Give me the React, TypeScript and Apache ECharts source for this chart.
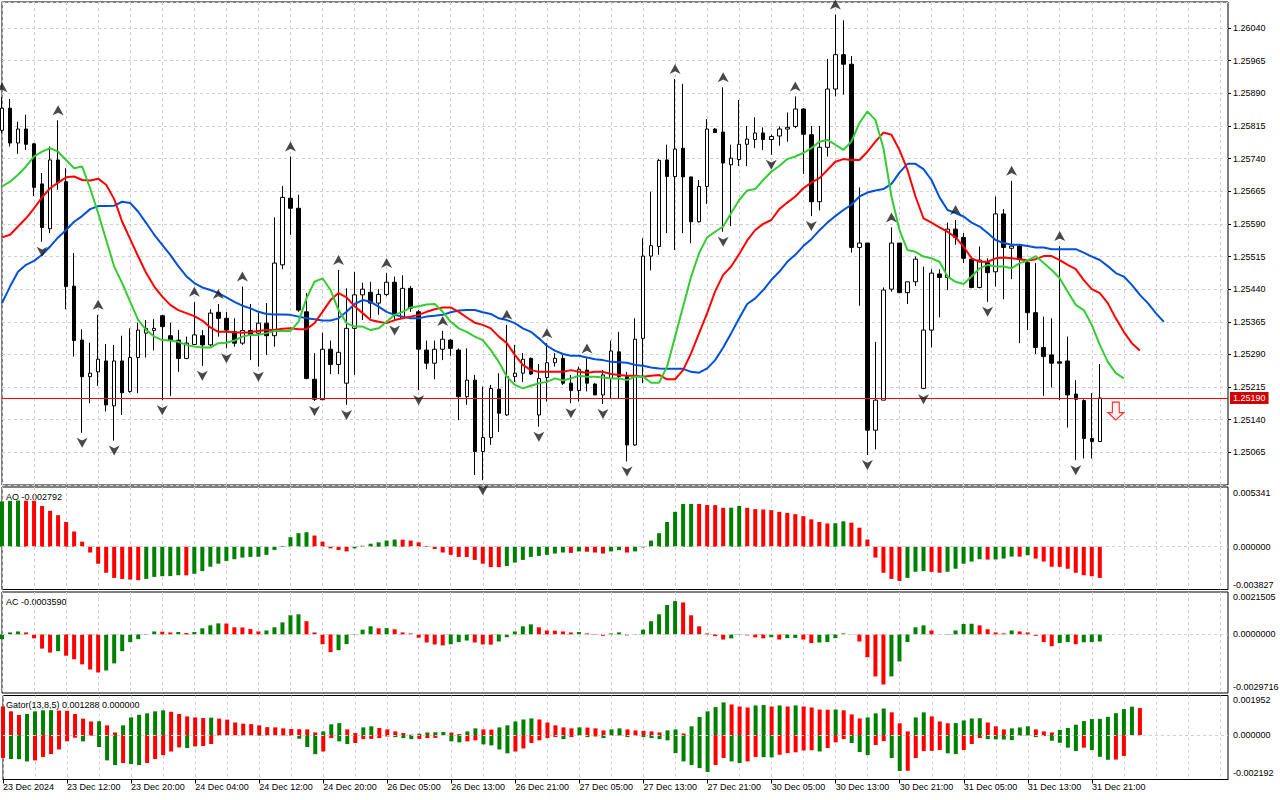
import React, { useEffect, useRef } from "react";
import * as echarts from "echarts";

// ---------- data ----------
const timeLabels = [
  "23 Dec 2024", "23 Dec 12:00", "23 Dec 20:00", "24 Dec 04:00", "24 Dec 12:00", "24 Dec 20:00",
  "26 Dec 05:00", "26 Dec 13:00", "26 Dec 21:00", "27 Dec 05:00", "27 Dec 13:00", "27 Dec 21:00",
  "30 Dec 05:00", "30 Dec 13:00", "30 Dec 21:00", "31 Dec 05:00", "31 Dec 13:00", "31 Dec 21:00",
];
const barsPerLabel = 8;
const categoryCount = 154;

const opens = [
  1.25805, 1.25856, 1.25776, 1.25808, 1.25774, 1.25682, 1.25579, 1.25737, 1.25687, 1.25447,
  1.25323, 1.25239, 1.25250, 1.25275, 1.25172, 1.25275, 1.25205, 1.25283, 1.25339, 1.25345,
  1.25379, 1.25333, 1.25323, 1.25281, 1.25313, 1.25333, 1.25312, 1.25387, 1.25373, 1.25342,
  1.25316, 1.25345, 1.25339, 1.25362, 1.25333, 1.25496, 1.25649, 1.25626, 1.25388, 1.25233,
  1.25186, 1.25302, 1.25267, 1.25224, 1.25350, 1.25427, 1.25433, 1.25408, 1.25428, 1.25456,
  1.25373, 1.25442, 1.25388, 1.25300, 1.25270, 1.25302, 1.25323, 1.25300, 1.25193, 1.25231,
  1.25067, 1.25099, 1.25210, 1.25151, 1.25239, 1.25247, 1.25281, 1.25151, 1.25237, 1.25271,
  1.25281, 1.25224, 1.25207, 1.25254, 1.25222, 1.25197, 1.25235, 1.25296, 1.25239, 1.25082,
  1.25327, 1.25516, 1.25538, 1.25737, 1.25699, 1.25764, 1.25698, 1.25595, 1.25676, 1.25808,
  1.25801, 1.25726, 1.25738, 1.25773, 1.25784, 1.25799, 1.25784, 1.25792, 1.25808, 1.25814,
  1.25854, 1.25795, 1.25641, 1.25766, 1.25900, 1.25979, 1.25957, 1.25536, 1.25546, 1.25116,
  1.25185, 1.25440, 1.25546, 1.25432, 1.25457, 1.25212, 1.25346, 1.25475, 1.25467, 1.25578,
  1.25559, 1.25509, 1.25444, 1.25501, 1.25480, 1.25613, 1.25534, 1.25539, 1.25501, 1.25386,
  1.25306, 1.25289, 1.25273, 1.25275, 1.25199, 1.25184, 1.25097, 1.25090,
];
const highs = [
  1.25881, 1.25877, 1.25825, 1.25841, 1.25776, 1.25707, 1.25768, 1.25828, 1.25718, 1.25523,
  1.25348, 1.25317, 1.25381, 1.25314, 1.25312, 1.25333, 1.25350, 1.25363, 1.25369, 1.25371,
  1.25381, 1.25363, 1.25346, 1.25331, 1.25411, 1.25346, 1.25394, 1.25406, 1.25388, 1.25373,
  1.25446, 1.25406, 1.25386, 1.25408, 1.25605, 1.25677, 1.25745, 1.25657, 1.25431, 1.25293,
  1.25340, 1.25322, 1.25484, 1.25442, 1.25480, 1.25455, 1.25457, 1.25440, 1.25477, 1.25469,
  1.25472, 1.25447, 1.25392, 1.25322, 1.25322, 1.25344, 1.25325, 1.25304, 1.25304, 1.25243,
  1.25216, 1.25220, 1.25247, 1.25358, 1.25312, 1.25293, 1.25283, 1.25268, 1.25316, 1.25293,
  1.25293, 1.25243, 1.25262, 1.25281, 1.25224, 1.25254, 1.25322, 1.25342, 1.25250, 1.25373,
  1.25557, 1.25664, 1.25739, 1.25772, 1.25923, 1.25912, 1.25698, 1.25691, 1.25831, 1.25810,
  1.25904, 1.25772, 1.25875, 1.25815, 1.25835, 1.25812, 1.25795, 1.25814, 1.25846, 1.25883,
  1.25856, 1.25815, 1.25815, 1.25969, 1.26071, 1.26058, 1.25976, 1.25674, 1.25546, 1.25319,
  1.25444, 1.25582, 1.25546, 1.25457, 1.25515, 1.25492, 1.25486, 1.25486, 1.25593, 1.25599,
  1.25569, 1.25515, 1.25538, 1.25511, 1.25653, 1.25624, 1.25689, 1.25542, 1.25507, 1.25500,
  1.25377, 1.25373, 1.25539, 1.25331, 1.25231, 1.25187, 1.25201, 1.25268,
];
const lows = [
  1.25799, 1.25768, 1.25751, 1.25760, 1.25654, 1.25549, 1.25569, 1.25668, 1.25394, 1.25285,
  1.25110, 1.25178, 1.25218, 1.25159, 1.25092, 1.25151, 1.25202, 1.25201, 1.25283, 1.25299,
  1.25185, 1.25195, 1.25250, 1.25279, 1.25312, 1.25264, 1.25308, 1.25331, 1.25304, 1.25308,
  1.25312, 1.25277, 1.25262, 1.25289, 1.25308, 1.25486, 1.25565, 1.25388, 1.25233, 1.25183,
  1.25186, 1.25245, 1.25245, 1.25174, 1.25243, 1.25369, 1.25373, 1.25381, 1.25424, 1.25368,
  1.25373, 1.25388, 1.25208, 1.25256, 1.25233, 1.25277, 1.25287, 1.25139, 1.25174, 1.25013,
  1.25001, 1.25082, 1.25112, 1.25149, 1.25227, 1.25227, 1.25243, 1.25124, 1.25182, 1.25262,
  1.25220, 1.25178, 1.25182, 1.25205, 1.25197, 1.25176, 1.25189, 1.25189, 1.25044, 1.25080,
  1.25224, 1.25483, 1.25519, 1.25569, 1.25530, 1.25569, 1.25546, 1.25593, 1.25636, 1.25799,
  1.25572, 1.25585, 1.25723, 1.25723, 1.25764, 1.25760, 1.25749, 1.25770, 1.25779, 1.25810,
  1.25705, 1.25608, 1.25621, 1.25745, 1.25883, 1.25887, 1.25524, 1.25402, 1.25059, 1.25072,
  1.25185, 1.25434, 1.25431, 1.25406, 1.25447, 1.25210, 1.25306, 1.25375, 1.25438, 1.25542,
  1.25500, 1.25442, 1.25442, 1.25411, 1.25446, 1.25417, 1.25463, 1.25316, 1.25346, 1.25291,
  1.25195, 1.25214, 1.25185, 1.25122, 1.25047, 1.25051, 1.25051, 1.25090,
];
const closes = [
  1.25856, 1.25776, 1.25808, 1.25773, 1.25674, 1.25582, 1.25737, 1.25685, 1.25446, 1.25322,
  1.25239, 1.25247, 1.25279, 1.25174, 1.25275, 1.25202, 1.25283, 1.25346, 1.25350, 1.25350,
  1.25354, 1.25322, 1.25281, 1.25316, 1.25335, 1.25312, 1.25385, 1.25373, 1.25346, 1.25316,
  1.25345, 1.25336, 1.25362, 1.25333, 1.25500, 1.25651, 1.25626, 1.25392, 1.25235, 1.25187,
  1.25302, 1.25267, 1.25295, 1.25350, 1.25427, 1.25440, 1.25408, 1.25428, 1.25456, 1.25381,
  1.25442, 1.25396, 1.25302, 1.25270, 1.25302, 1.25325, 1.25304, 1.25193, 1.25231, 1.25067,
  1.25099, 1.25212, 1.25155, 1.25239, 1.25247, 1.25279, 1.25245, 1.25235, 1.25271, 1.25281,
  1.25224, 1.25207, 1.25256, 1.25224, 1.25197, 1.25243, 1.25298, 1.25239, 1.25082, 1.25325,
  1.25516, 1.25540, 1.25736, 1.25699, 1.25762, 1.25698, 1.25595, 1.25676, 1.25808, 1.25800,
  1.25730, 1.25741, 1.25773, 1.25785, 1.25799, 1.25784, 1.25791, 1.25808, 1.25812, 1.25854,
  1.25796, 1.25641, 1.25766, 1.25900, 1.25979, 1.25957, 1.25536, 1.25546, 1.25116, 1.25185,
  1.25438, 1.25546, 1.25432, 1.25457, 1.25509, 1.25346, 1.25477, 1.25467, 1.25578, 1.25559,
  1.25511, 1.25444, 1.25507, 1.25478, 1.25613, 1.25536, 1.25539, 1.25509, 1.25386, 1.25306,
  1.25285, 1.25270, 1.25270, 1.25197, 1.25187, 1.25097, 1.25090, 1.25190,
];

// Alligator (already shifted: jaw +8, teeth +5, lips +3 bars)
const jaw = [
  1.25408, 1.25446, 1.25480, 1.25496, 1.25505, 1.25519, 1.25538, 1.25559, 1.25576, 1.25595,
  1.25608, 1.25624, 1.25631, 1.25631, 1.25632, 1.25641, 1.25638, 1.25618, 1.25592, 1.25565,
  1.25542, 1.25519, 1.25493, 1.25470, 1.25454, 1.25444, 1.25438, 1.25431, 1.25421, 1.25411,
  1.25402, 1.25396, 1.25388, 1.25383, 1.25382, 1.25382, 1.25381, 1.25377, 1.25373, 1.25371,
  1.25368, 1.25368, 1.25373, 1.25388, 1.25406, 1.25415, 1.25411, 1.25400, 1.25388, 1.25381,
  1.25377, 1.25373, 1.25373, 1.25377, 1.25379, 1.25381, 1.25387, 1.25391, 1.25392, 1.25392,
  1.25387, 1.25383, 1.25373, 1.25369, 1.25362, 1.25350, 1.25342, 1.25327, 1.25310, 1.25299,
  1.25291, 1.25287, 1.25287, 1.25283, 1.25279, 1.25277, 1.25273, 1.25272, 1.25271, 1.25266,
  1.25264, 1.25260, 1.25258, 1.25257, 1.25257, 1.25257, 1.25250, 1.25248, 1.25258, 1.25277,
  1.25306, 1.25339, 1.25373, 1.25406, 1.25419, 1.25438, 1.25461, 1.25480, 1.25503, 1.25519,
  1.25539, 1.25555, 1.25575, 1.25593, 1.25608, 1.25622, 1.25634, 1.25653, 1.25662, 1.25667,
  1.25670, 1.25682, 1.25708, 1.25728, 1.25728, 1.25716, 1.25691, 1.25651, 1.25622, 1.25615,
  1.25607, 1.25593, 1.25584, 1.25569, 1.25553, 1.25546, 1.25542, 1.25542, 1.25539, 1.25536,
  1.25536, 1.25532, 1.25532, 1.25532, 1.25532, 1.25524, 1.25515, 1.25507, 1.25493, 1.25477,
  1.25469, 1.25450, 1.25427, 1.25408, 1.25385, 1.25365,
];
const teeth = [
  1.25559, 1.25565, 1.25584, 1.25603, 1.25626, 1.25651, 1.25672, 1.25685, 1.25697, 1.25699,
  1.25691, 1.25690, 1.25694, 1.25680, 1.25647, 1.25595, 1.25555, 1.25515, 1.25477, 1.25446,
  1.25423, 1.25404, 1.25392, 1.25385, 1.25378, 1.25368, 1.25352, 1.25342, 1.25342, 1.25341,
  1.25340, 1.25341, 1.25344, 1.25346, 1.25346, 1.25349, 1.25350, 1.25348, 1.25348, 1.25362,
  1.25388, 1.25415, 1.25431, 1.25421, 1.25401, 1.25385, 1.25369, 1.25365, 1.25362, 1.25369,
  1.25373, 1.25377, 1.25381, 1.25388, 1.25394, 1.25398, 1.25398, 1.25388, 1.25375, 1.25363,
  1.25358, 1.25350, 1.25331, 1.25316, 1.25289, 1.25266, 1.25254, 1.25250, 1.25250, 1.25250,
  1.25250, 1.25254, 1.25250, 1.25248, 1.25250, 1.25250, 1.25245, 1.25243, 1.25241, 1.25241,
  1.25239, 1.25241, 1.25243, 1.25233, 1.25233, 1.25254, 1.25293, 1.25339, 1.25385, 1.25435,
  1.25473, 1.25492, 1.25521, 1.25552, 1.25576, 1.25590, 1.25599, 1.25624, 1.25639, 1.25653,
  1.25672, 1.25685, 1.25695, 1.25714, 1.25733, 1.25739, 1.25737, 1.25737, 1.25756, 1.25779,
  1.25800, 1.25795, 1.25760, 1.25714, 1.25653, 1.25603, 1.25593, 1.25582, 1.25572, 1.25559,
  1.25538, 1.25511, 1.25503, 1.25503, 1.25511, 1.25513, 1.25511, 1.25509, 1.25506, 1.25509,
  1.25516, 1.25516, 1.25507, 1.25496, 1.25486, 1.25461, 1.25440, 1.25431, 1.25408, 1.25373,
  1.25342, 1.25316, 1.25299,
];
const lips = [
  1.25676, 1.25687, 1.25703, 1.25722, 1.25745, 1.25756, 1.25764, 1.25756, 1.25737, 1.25718,
  1.25722, 1.25672, 1.25615, 1.25553, 1.25492, 1.25454, 1.25411, 1.25369, 1.25346, 1.25331,
  1.25323, 1.25322, 1.25319, 1.25312, 1.25308, 1.25306, 1.25306, 1.25316, 1.25317, 1.25322,
  1.25331, 1.25335, 1.25335, 1.25339, 1.25344, 1.25344, 1.25344, 1.25365, 1.25419, 1.25457,
  1.25465, 1.25438, 1.25392, 1.25362, 1.25354, 1.25354, 1.25346, 1.25350, 1.25365, 1.25381,
  1.25388, 1.25398, 1.25401, 1.25405, 1.25406, 1.25388, 1.25365, 1.25350, 1.25342, 1.25331,
  1.25323, 1.25300, 1.25273, 1.25239, 1.25220, 1.25212, 1.25218, 1.25224, 1.25227, 1.25235,
  1.25230, 1.25235, 1.25241, 1.25239, 1.25239, 1.25237, 1.25235, 1.25235, 1.25231, 1.25239,
  1.25239, 1.25225, 1.25225, 1.25262, 1.25331, 1.25400, 1.25469, 1.25523, 1.25559, 1.25572,
  1.25584, 1.25615, 1.25645, 1.25667, 1.25670, 1.25691, 1.25710, 1.25723, 1.25739, 1.25745,
  1.25753, 1.25764, 1.25779, 1.25783, 1.25772, 1.25760, 1.25779, 1.25822, 1.25848, 1.25829,
  1.25764, 1.25653, 1.25576, 1.25530, 1.25526, 1.25515, 1.25511, 1.25503, 1.25469, 1.25457,
  1.25452, 1.25469, 1.25488, 1.25496, 1.25492, 1.25492, 1.25488, 1.25500, 1.25506, 1.25516,
  1.25500, 1.25484, 1.25465, 1.25434, 1.25404, 1.25392, 1.25358, 1.25312, 1.25273, 1.25247,
  1.25235,
];

const upFractalBars = [0, 7, 12, 24, 27, 30, 36, 42, 48, 55, 63, 68, 73, 84, 90, 99, 104, 111, 119, 126, 132];
const downFractalBars = [5, 10, 14, 20, 25, 28, 32, 39, 43, 49, 52, 60, 67, 71, 75, 78, 90, 96, 101, 108, 115, 123, 134];

const signalBar = 139;
const signalPrice = 1.2516;

const ao = [
  0.00405, 0.00410, 0.00413, 0.00412, 0.00411, 0.00364, 0.00321, 0.00282, 0.00221, 0.00136,
  0.00045, -0.00052, -0.00152, -0.00233, -0.00279, -0.00288, -0.00294, -0.00300, -0.00288, -0.00270,
  -0.00264, -0.00263, -0.00255, -0.00256, -0.00242, -0.00218, -0.00179, -0.00152, -0.00127, -0.00112,
  -0.00097, -0.00091, -0.00090, -0.00073, -0.00030, 0.00006, 0.00085, 0.00121, 0.00130, 0.00100,
  0.00045, -0.00015, -0.00030, -0.00042, -0.00015, 0.00009, 0.00027, 0.00039, 0.00055, 0.00064,
  0.00063, 0.00055, 0.00039, 0.00006, -0.00021, -0.00052, -0.00073, -0.00091, -0.00092, -0.00118,
  -0.00152, -0.00182, -0.00183, -0.00173, -0.00142, -0.00118, -0.00091, -0.00082, -0.00073, -0.00061,
  -0.00052, -0.00055, -0.00042, -0.00045, -0.00052, -0.00061, -0.00042, -0.00030, -0.00052, -0.00042,
  -0.00006, 0.00055, 0.00121, 0.00221, 0.00312, 0.00382, 0.00383, 0.00382, 0.00373, 0.00372,
  0.00348, 0.00349, 0.00364, 0.00348, 0.00336, 0.00333, 0.00327, 0.00312, 0.00303, 0.00291,
  0.00273, 0.00245, 0.00221, 0.00208, 0.00210, 0.00227, 0.00215, 0.00170, 0.00064, -0.00097,
  -0.00233, -0.00288, -0.00306, -0.00279, -0.00224, -0.00218, -0.00225, -0.00233, -0.00224, -0.00197,
  -0.00152, -0.00133, -0.00112, -0.00115, -0.00114, -0.00106, -0.00088, -0.00089, -0.00076, -0.00106,
  -0.00133, -0.00179, -0.00180, -0.00197, -0.00233, -0.00255, -0.00264, -0.00279,
];
const ac = [
  -0.00024, 0.00010, 0.00015, 0.00010, -0.00020, -0.00072, -0.00092, -0.00085, -0.00108, -0.00126,
  -0.00152, -0.00178, -0.00193, -0.00183, -0.00147, -0.00085, -0.00039, -0.00024, -0.00003, 0.00015,
  0.00014, 0.00010, 0.00012, 0.00007, 0.00012, 0.00031, 0.00046, 0.00056, 0.00055, 0.00036,
  0.00035, 0.00027, 0.00015, 0.00020, 0.00036, 0.00061, 0.00097, 0.00102, 0.00067, 0.00010,
  -0.00050, -0.00090, -0.00080, -0.00049, -0.00002, 0.00024, 0.00041, 0.00031, 0.00032, 0.00026,
  0.00010, 0.00005, -0.00017, -0.00041, -0.00051, -0.00056, -0.00050, -0.00039, -0.00031, -0.00041,
  -0.00051, -0.00052, -0.00036, -0.00014, 0.00015, 0.00041, 0.00051, 0.00036, 0.00020, 0.00019,
  0.00015, 0.00010, 0.00012, 0.00005, 0.00002, -0.00007, 0.00005, 0.00010, -0.00005, -0.00002,
  0.00024, 0.00067, 0.00102, 0.00149, 0.00169, 0.00162, 0.00097, 0.00041, 0.00005, -0.00009,
  -0.00026, -0.00020, 0.00002, -0.00005, -0.00015, -0.00020, -0.00014, -0.00026, -0.00019, -0.00018,
  -0.00026, -0.00044, -0.00041, -0.00039, -0.00019, 0.00005, 0.00001, -0.00036, -0.00116, -0.00213,
  -0.00254, -0.00213, -0.00137, -0.00039, 0.00036, 0.00046, 0.00020, 0.00001, 0.00002, 0.00020,
  0.00053, 0.00054, 0.00046, 0.00026, 0.00010, 0.00005, 0.00020, 0.00015, 0.00010, -0.00007,
  -0.00039, -0.00060, -0.00044, -0.00039, -0.00050, -0.00040, -0.00039, -0.00036,
];
const gatorUpper = [
  0.00141, 0.00117, 0.00099, 0.00104, 0.00117, 0.00122, 0.00123, 0.00121, 0.00120, 0.00104,
  0.00081, 0.00067, 0.00068, 0.00048, 0.00013, 0.00048, 0.00087, 0.00100, 0.00107, 0.00117,
  0.00122, 0.00115, 0.00104, 0.00092, 0.00087, 0.00084, 0.00086, 0.00081, 0.00076, 0.00062,
  0.00056, 0.00054, 0.00048, 0.00039, 0.00038, 0.00033, 0.00030, 0.00029, 0.00028, 0.00013,
  0.00018, 0.00053, 0.00059, 0.00028, 0.00010, 0.00038, 0.00043, 0.00035, 0.00028, 0.00018,
  0.00010, 0.00002, 0.00007, 0.00013, 0.00014, 0.00015, 0.00012, 0.00005, 0.00018, 0.00033,
  0.00028, 0.00027, 0.00038, 0.00048, 0.00067, 0.00077, 0.00082, 0.00077, 0.00062, 0.00048,
  0.00038, 0.00033, 0.00038, 0.00037, 0.00033, 0.00023, 0.00028, 0.00033, 0.00028, 0.00023,
  0.00021, 0.00018, 0.00013, 0.00023, 0.00028, 0.00008, 0.00043, 0.00089, 0.00117, 0.00138,
  0.00161, 0.00151, 0.00141, 0.00136, 0.00146, 0.00148, 0.00141, 0.00146, 0.00141, 0.00146,
  0.00141, 0.00136, 0.00126, 0.00125, 0.00126, 0.00122, 0.00102, 0.00082, 0.00087, 0.00107,
  0.00131, 0.00112, 0.00058, 0.00018, 0.00087, 0.00112, 0.00092, 0.00067, 0.00058, 0.00059,
  0.00072, 0.00082, 0.00083, 0.00062, 0.00043, 0.00028, 0.00033, 0.00038, 0.00043, 0.00028,
  0.00018, 0.00013, 0.00025, 0.00035, 0.00051, 0.00069, 0.00079, 0.00080, 0.00090, 0.00108,
  0.00128, 0.00140, 0.00133,
];
const gatorLower = [
  -0.00113, -0.00118, -0.00119, -0.00130, -0.00125, -0.00108, -0.00094, -0.00071, -0.00031, -0.00013,
  -0.00031, -0.00003, -0.00059, -0.00125, -0.00148, -0.00138, -0.00143, -0.00148, -0.00138, -0.00118,
  -0.00099, -0.00081, -0.00061, -0.00064, -0.00056, -0.00054, -0.00044, -0.00002, -0.00001, -0.00001,
  -0.00002, -0.00002, -0.00003, -0.00002, -0.00002, -0.00002, -0.00003, -0.00018, -0.00059, -0.00094,
  -0.00081, -0.00015, -0.00031, -0.00044, -0.00039, -0.00020, -0.00019, -0.00015, -0.00007, -0.00010,
  -0.00015, -0.00020, -0.00019, -0.00015, -0.00014, -0.00001, -0.00031, -0.00036, -0.00031, -0.00026,
  -0.00046, -0.00051, -0.00071, -0.00090, -0.00081, -0.00066, -0.00039, -0.00026, -0.00015, -0.00010,
  -0.00020, -0.00010, -0.00002, -0.00010, -0.00007, -0.00015, -0.00003, -0.00002, -0.00010, -0.00003,
  -0.00010, -0.00015, -0.00020, -0.00026, -0.00089, -0.00130, -0.00148, -0.00163, -0.00182, -0.00148,
  -0.00113, -0.00130, -0.00138, -0.00130, -0.00108, -0.00109, -0.00110, -0.00097, -0.00089, -0.00085,
  -0.00076, -0.00075, -0.00081, -0.00064, -0.00036, -0.00020, -0.00039, -0.00084, -0.00099, -0.00049,
  -0.00030, -0.00113, -0.00177, -0.00176, -0.00113, -0.00079, -0.00078, -0.00074, -0.00090, -0.00094,
  -0.00074, -0.00044, -0.00015, -0.00020, -0.00021, -0.00022, -0.00025, -0.00003, -0.00002, -0.00010,
  -0.00005, -0.00028, -0.00038, -0.00062, -0.00079, -0.00062, -0.00074, -0.00107, -0.00122, -0.00121,
  -0.00103,
];

// axis ranges / labels (as shown by the terminal)
const priceMin = 1.2499;
const priceMax = 1.261;
const priceStep = 0.00075;
const aoRange = [-0.003827, 0.005341];
const acRange = [-0.0029716, 0.0021505];
const gatorRange = [-0.002192, 0.001952];
const aoAxisLabels = ["0.005341", "0.000000", "-0.003827"];
const acAxisLabels = ["0.0021505", "0.0000000", "-0.0029716"];
const gatorAxisLabels = ["0.001952", "0.000000", "-0.002192"];
const aoTitle = "AO -0.002792";
const acTitle = "AC -0.0003590";
const gatorTitle = "Gator(13,8,5) 0.001288 0.000000";

// ---------- styling ----------
const FONT = '"Liberation Sans", Arial, sans-serif';
const GREEN = "#008000";
const RED = "#ff0000";
const GRID_COLOR = "#d0d0d0";

function colorBars(values: number[], firstColor: string, byAbs = false) {
  return values.map((v, i) => {
    let c = firstColor;
    if (i > 0) {
      const a = byAbs ? Math.abs(v) : v;
      const b = byAbs ? Math.abs(values[i - 1]) : values[i - 1];
      c = a > b ? GREEN : RED;
    }
    return { value: v, itemStyle: { color: c } };
  });
}

function zeroLine() {
  return {
    silent: true,
    precision: 8,
    symbol: ["none", "none"],
    label: { show: false },
    lineStyle: { color: GRID_COLOR, type: [3, 3], width: 1 },
    data: [{ yAxis: 0 }],
  };
}

export default function App() {
  const ref = useRef<HTMLDivElement>(null);

  useEffect(() => {
    if (!ref.current) return;
    const chart = echarts.init(ref.current, null, { renderer: "svg" });
    const categories = Array.from({ length: categoryCount }, (_, i) => String(i));
    const labelFor = (idx: number) =>
      idx % barsPerLabel === 0 && idx / barsPerLabel < timeLabels.length ? timeLabels[idx / barsPerLabel] : "";
    const hasLabel = (idx: number) => labelFor(idx) !== "";

    const gridDefs = [
      { left: 2, top: 2, width: 1226, height: 483 },
      { left: 2, top: 487, width: 1226, height: 102.5 },
      { left: 2, top: 592, width: 1226, height: 101 },
      { left: 2, top: 695.5, width: 1226, height: 84 },
    ];
    const grids = gridDefs.map((g) => ({ ...g, show: true, borderColor: "#000", borderWidth: 1, backgroundColor: "#fff" }));

    const xAxes = gridDefs.map((_, gi) => ({
      type: "category",
      gridIndex: gi,
      data: categories,
      boundaryGap: false,
      axisLine: { show: gi === 3, onZero: false, lineStyle: { color: "#000" } },
      axisTick: { show: gi === 3, interval: (idx: number) => hasLabel(idx), length: 4, lineStyle: { color: "#000" } },
      axisLabel: {
        show: gi === 3,
        interval: (idx: number) => hasLabel(idx),
        align: "left",
        margin: 3,
        color: "#000",
        fontSize: 9,
        fontFamily: FONT,
        formatter: (_v: string, idx: number) => labelFor(idx),
      },
      splitLine: { show: true, interval: 3, lineStyle: { color: GRID_COLOR, type: [3, 3], width: 1 } },
    }));

    const subY = (gi: number, range: number[]) => ({
      type: "value",
      gridIndex: gi,
      position: "right",
      min: range[0],
      max: range[1],
      axisLine: { show: false },
      axisTick: { show: false },
      axisLabel: { show: false },
      splitLine: { show: false },
    });

    const yAxes = [
      {
        type: "value",
        gridIndex: 0,
        position: "right",
        min: priceMin,
        max: priceMax,
        interval: priceStep,
        axisLine: { show: false },
        axisTick: { show: true, length: 3, lineStyle: { color: "#000" } },
        axisLabel: {
          color: "#000",
          fontSize: 9,
          fontFamily: FONT,
          margin: 5,
          showMinLabel: false,
          showMaxLabel: false,
          formatter: (v: number) => v.toFixed(5),
        },
        splitLine: { show: true, lineStyle: { color: GRID_COLOR, type: [3, 3], width: 1 } },
      },
      subY(1, aoRange),
      subY(2, acRange),
      subY(3, gatorRange),
    ];

    const lastClose = closes[closes.length - 1];

    const lineSeries = (name: string, data: number[], color: string, extra: any = {}) => ({
      name,
      type: "line",
      xAxisIndex: 0,
      yAxisIndex: 0,
      data,
      symbol: "none",
      showSymbol: false,
      z: 4,
      lineStyle: { color, width: 2 },
      ...extra,
    });

    const priceLine = {
      markLine: {
        silent: true,
        precision: 5,
        symbol: ["none", "none"],
        lineStyle: { color: RED, width: 1, type: "solid" },
        label: {
          show: true,
          position: "end",
          distance: 2,
          formatter: lastClose.toFixed(5),
          color: "#fff",
          backgroundColor: "#d00000",
          padding: [2, 3, 1, 3],
          fontSize: 9,
          fontFamily: FONT,
        },
        data: [{ yAxis: lastClose }],
      },
    };

    const texts: any[] = [];
    const addText = (x: number, y: number, text: string) =>
      texts.push({
        type: "text",
        x,
        y,
        silent: true,
        style: { text, fill: "#000", font: `9px ${FONT}`, align: "left", verticalAlign: "middle" },
      });
    addText(6, 497, aoTitle);
    addText(6, 601.5, acTitle);
    addText(6, 704.5, gatorTitle);
    const aoYs = [492.7, 546.9, 584.7];
    const acYs = [597.3, 634, 687.3];
    const gatorYs = [700.3, 734.8, 773.3];
    aoAxisLabels.forEach((t, i) => addText(1233, aoYs[i], t));
    acAxisLabels.forEach((t, i) => addText(1233, acYs[i], t));
    gatorAxisLabels.forEach((t, i) => addText(1233, gatorYs[i], t));

    const option: any = {
      animation: false,
      backgroundColor: "#fff",
      textStyle: { fontFamily: FONT },
      grid: grids,
      xAxis: xAxes,
      yAxis: yAxes,
      graphic: texts,
      series: [
        {
          name: "price",
          type: "candlestick",
          xAxisIndex: 0,
          yAxisIndex: 0,
          barWidth: 4,
          z: 3,
          data: opens.map((o, i) => [o, closes[i], lows[i], highs[i]]),
          itemStyle: { color: "#fff", color0: "#000", borderColor: "#000", borderColor0: "#000", borderWidth: 1 },
        },
        lineSeries("jaw", jaw, "#0050d8", priceLine),
        lineSeries("teeth", teeth, "#ff0000"),
        lineSeries("lips", lips, "#33cc33"),
        {
          name: "upFractal",
          type: "scatter",
          xAxisIndex: 0,
          yAxisIndex: 0,
          z: 5,
          symbol: "path://M6,0 L12,11 L6,8 L0,11 Z",
          symbolSize: [11, 10],
          symbolOffset: [0, -10],
          itemStyle: { color: "#1a1a1a" },
          data: upFractalBars.map((i) => [i, highs[i]]),
        },
        {
          name: "downFractal",
          type: "scatter",
          xAxisIndex: 0,
          yAxisIndex: 0,
          z: 5,
          symbol: "path://M0,0 L6,3 L12,0 L6,11 Z",
          symbolSize: [11, 10],
          symbolOffset: [0, 10],
          itemStyle: { color: "#1a1a1a" },
          data: downFractalBars.map((i) => [i, lows[i]]),
        },
        {
          name: "signal",
          type: "scatter",
          xAxisIndex: 0,
          yAxisIndex: 0,
          z: 6,
          symbol: "path://M4,0 L10,0 L10,10 L14,10 L7,17 L0,10 L4,10 Z",
          symbolSize: [16, 18],
          itemStyle: { color: "#fff0f0", borderColor: "#ff0000", borderWidth: 1.2 },
          data: [[signalBar, signalPrice]],
        },
        {
          name: "AO",
          type: "bar",
          xAxisIndex: 1,
          yAxisIndex: 1,
          barWidth: 4,
          data: colorBars(ao, GREEN),
          markLine: zeroLine(),
        },
        {
          name: "AC",
          type: "bar",
          xAxisIndex: 2,
          yAxisIndex: 2,
          barWidth: 4,
          data: colorBars(ac, GREEN),
          markLine: zeroLine(),
        },
        {
          name: "GatorUp",
          type: "bar",
          xAxisIndex: 3,
          yAxisIndex: 3,
          barWidth: 4,
          data: colorBars(gatorUpper, RED),
          markLine: zeroLine(),
        },
        {
          name: "GatorDown",
          type: "bar",
          xAxisIndex: 3,
          yAxisIndex: 3,
          barWidth: 4,
          barGap: "-100%",
          data: colorBars(gatorLower, RED, true),
        },
      ],
    };
    chart.setOption(option);
    return () => chart.dispose();
  }, []);

  return (
    <div
      ref={ref}
      style={{ position: "fixed", left: 0, top: 0, width: 1280, height: 800, background: "#fff" }}
    />
  );
}
